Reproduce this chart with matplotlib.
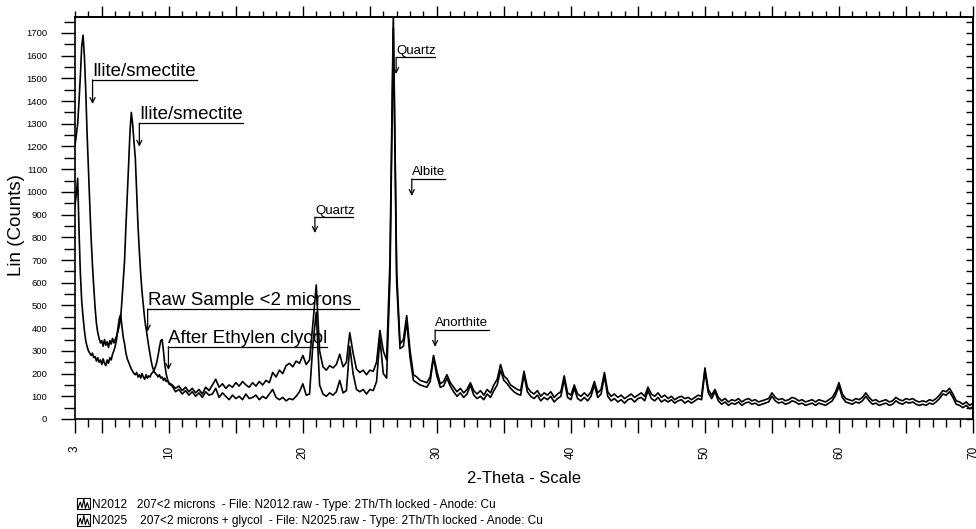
import numpy as np
import matplotlib
matplotlib.use("Agg")
import matplotlib.pyplot as plt
from matplotlib.legend_handler import HandlerBase
from matplotlib.patches import Rectangle
from matplotlib.lines import Line2D
from matplotlib.ticker import MultipleLocator

# 2-theta sampling: 0.1 deg steps at low angle, 0.25 deg steps after 10 deg
theta_fine = np.round(np.arange(3.0, 10.0001, 0.1), 2)
theta_coarse = np.round(np.arange(10.25, 70.0001, 0.25), 2)

# N2012 (raw <2 microns), counts
n2012_fine = [
    1205, 1250, 1300, 1400, 1510, 1640, 1690, 1600, 1450, 1260,   # 3.0 - 3.9
    1100, 950, 800, 680, 580, 490, 420, 380, 355, 335,            # 4.0 - 4.9
    345, 320, 350, 325, 340, 315, 345, 330, 355, 335,             # 5.0 - 5.9
    350, 365, 385, 410, 440, 520, 610, 700, 850, 980,             # 6.0 - 6.9
    1120, 1260, 1350, 1300, 1220, 1150, 1000, 850, 740, 640,      # 7.0 - 7.9
    560, 500, 440, 400, 360, 320, 285, 250, 225, 210,             # 8.0 - 8.9
    200, 195, 185, 195, 180, 185, 170, 180, 165, 170,             # 9.0 - 9.9
    160,                                                          # 10.0
]
n2012_coarse = [
    150, 135, 145, 125,  140, 120, 135, 115,     # 10.25 - 12.0
    130, 110, 140, 125,  150, 175, 140, 155,     # 12.25 - 14.0
    135, 150, 140, 160,  145, 165, 150, 140,     # 14.25 - 16.0
    160, 145, 165, 150,  170, 160, 205, 185,     # 16.25 - 18.0
    215, 200, 235, 245,  230, 255, 245, 280,     # 18.25 - 20.0
    240, 260, 420, 590,  300, 230, 215, 235,     # 20.25 - 22.0
    225, 240, 285, 230,  250, 380, 290, 220,     # 22.25 - 24.0
    205, 215, 195, 215,  210, 250, 390, 300,     # 24.25 - 26.0
    260, 700, 1780, 650, 330, 350, 455, 300,     # 26.25 - 28.0
    195, 185, 170, 165,  160, 185, 280, 210,     # 28.25 - 30.0
    155, 165, 195, 160,  140, 120, 135, 115,     # 30.25 - 32.0
    130, 160, 125, 110,  125, 105, 130, 115,     # 32.25 - 34.0
    150, 175, 240, 190,  175, 150, 140, 130,     # 34.25 - 36.0
    125, 210, 140, 120,  110, 125, 100, 115,     # 36.25 - 38.0
    105, 120, 95, 110,   120, 190, 115, 105,     # 38.25 - 40.0
    150, 110, 100, 115,  100, 120, 165, 115,     # 40.25 - 42.0
    130, 205, 120, 100,  110, 95, 105, 90,       # 42.25 - 44.0
    100, 110, 95, 105,   115, 100, 140, 110,     # 44.25 - 46.0
    100, 115, 95, 105,   90, 100, 85, 95,        # 46.25 - 48.0
    100, 90, 95, 85,     95, 105, 100, 225,      # 48.25 - 50.0
    130, 105, 130, 95,   80, 90, 75, 85,         # 50.25 - 52.0
    80, 90, 75, 85,      90, 80, 85, 75,         # 52.25 - 54.0
    80, 85, 90, 115,     95, 85, 90, 80,         # 54.25 - 56.0
    85, 95, 90, 80,      85, 75, 80, 85,         # 56.25 - 58.0
    75, 85, 80, 75,      85, 95, 120, 160,       # 58.25 - 60.0
    110, 90, 85, 80,     90, 85, 95, 115,        # 60.25 - 62.0
    95, 80, 85, 75,      80, 85, 75, 80,         # 62.25 - 64.0
    95, 85, 80, 90,      85, 90, 80, 75,         # 64.25 - 66.0
    80, 75, 85, 80,      90, 105, 125, 120,      # 66.25 - 68.0
    135, 110, 80, 75,    65, 75, 60, 70,         # 68.25 - 70.0
]

# N2025 (<2 microns + glycol)
n2025_fine = [
    940, 990, 1060, 830, 640, 520, 450, 390, 345, 320,            # 3.0 - 3.9
    300, 290, 280, 290, 270, 275, 255, 270, 250, 260,             # 4.0 - 4.9
    240, 265, 245, 235, 260, 245, 270, 260, 285, 300,             # 5.0 - 5.9
    320, 350, 400, 440, 460, 410, 360, 330, 290, 265,             # 6.0 - 6.9
    250, 235, 220, 210, 200, 195, 205, 185, 195, 180,             # 7.0 - 7.9
    200, 185, 175, 195, 180, 190, 185, 200, 205, 215,             # 8.0 - 8.9
    230, 250, 280, 315, 345, 350, 300, 240, 200, 175,             # 9.0 - 9.9
    155,                                                          # 10.0
]
n2025_coarse = [
    145, 120, 130, 110,  125, 105, 120, 100,     # 10.25 - 12.0
    115, 95, 120, 105,   110, 135, 95, 115,      # 12.25 - 14.0
    100, 85, 105, 90,    100, 85, 110, 90,       # 14.25 - 16.0
    95, 105, 85, 100,    90, 110, 130, 95,       # 16.25 - 18.0
    85, 95, 80, 90,      85, 100, 120, 155,      # 18.25 - 20.0
    105, 110, 330, 470,  150, 110, 100, 115,     # 20.25 - 22.0
    105, 120, 170, 115,  125, 320, 200, 130,     # 22.25 - 24.0
    120, 130, 110, 130,  125, 165, 355, 200,     # 24.25 - 26.0
    180, 620, 1720, 600, 310, 320, 430, 270,     # 26.25 - 28.0
    170, 160, 150, 145,  140, 165, 270, 190,     # 28.25 - 30.0
    140, 145, 180, 145,  120, 100, 115, 95,      # 30.25 - 32.0
    110, 150, 105, 90,   100, 85, 110, 95,       # 32.25 - 34.0
    125, 150, 215, 170,  155, 135, 120, 110,     # 34.25 - 36.0
    105, 195, 120, 100,  90, 105, 80, 95,        # 36.25 - 38.0
    85, 100, 75, 90,     100, 175, 95, 85,       # 38.25 - 40.0
    135, 90, 80, 95,     80, 100, 150, 95,       # 40.25 - 42.0
    110, 190, 100, 80,   90, 75, 85, 70,         # 42.25 - 44.0
    85, 90, 75, 90,      95, 80, 125, 90,        # 44.25 - 46.0
    80, 95, 75, 85,      75, 85, 70, 80,         # 46.25 - 48.0
    85, 70, 80, 70,      80, 90, 85, 210,        # 48.25 - 50.0
    115, 90, 120, 80,    65, 75, 60, 70,         # 50.25 - 52.0
    65, 75, 60, 70,      75, 65, 70, 60,         # 52.25 - 54.0
    65, 70, 75, 100,     80, 70, 75, 65,         # 54.25 - 56.0
    70, 80, 75, 65,      70, 60, 65, 70,         # 56.25 - 58.0
    60, 70, 65, 60,      70, 80, 105, 145,       # 58.25 - 60.0
    95, 75, 70, 65,      75, 70, 80, 100,        # 60.25 - 62.0
    80, 65, 70, 60,      65, 70, 60, 65,         # 62.25 - 64.0
    80, 70, 65, 75,      70, 75, 65, 60,         # 64.25 - 66.0
    65, 60, 70, 65,      75, 90, 110, 105,       # 66.25 - 68.0
    120, 95, 65, 60,     50, 60, 45, 55,         # 68.25 - 70.0
]

two_theta = np.concatenate([theta_fine, theta_coarse])
n2012 = np.array(n2012_fine + n2012_coarse)
n2025 = np.array(n2025_fine + n2025_coarse)

x_tick_pos = [3, 5, 10, 15, 20, 25, 30, 35, 40, 45, 50, 55, 60, 65, 70]
x_tick_lab = ["3", "", "10", "", "20", "", "30", "", "40", "", "50", "", "60", "", "70"]
y_ticks = list(range(0, 1701, 100))

legend_labels = [
    "N2012   207<2 microns  - File: N2012.raw - Type: 2Th/Th locked - Anode: Cu",
    "N2025    207<2 microns + glycol  - File: N2025.raw - Type: 2Th/Th locked - Anode: Cu",
]

# label, x of arrow, y of underline, y of arrow tip, x where underline ends, size
peak_labels = [
    ("Ilite/smectite", 4.31, 1493, 1387, 12.08, "big"),
    ("Ilite/smectite", 7.80, 1302, 1199, 15.55, "big"),
    ("Quartz", 20.90, 889, 819, 23.75, "small"),
    ("Quartz", 26.96, 1592, 1519, 29.87, "small"),
    ("Albite", 28.13, 1057, 982, 30.60, "small"),
    ("Anorthite", 29.87, 392, 318, 33.90, "small"),
    ("Raw Sample <2 microns", 8.42, 484, 385, 24.20, "big"),
    ("After Ethylen clycol", 9.97, 318, 216, 21.80, "big"),
]

REG = ["Liberation Sans", "DejaVu Sans"]


class ZigzagHandler(HandlerBase):
    def create_artists(self, legend, orig_handle, xdescent, ydescent,
                       width, height, fontsize, trans):
        x0, y0 = -xdescent, -ydescent
        box = Rectangle((x0, y0), width, height, fill=False, ec="black",
                        lw=0.8, transform=trans)
        xs = x0 + width * np.array([0.08, 0.25, 0.38, 0.52, 0.64, 0.78, 0.92])
        ys = y0 + height * np.array([0.1, 0.65, 0.15, 0.9, 0.1, 0.6, 0.1])
        zig = Line2D(xs, ys, color="black", lw=0.8, transform=trans)
        return [box, zig]


fig = plt.figure(figsize=(9.76, 5.29), dpi=100)
ax = fig.add_axes([75 / 976, 1 - 419 / 529, 898 / 976, 402 / 529])

ax.plot(two_theta, n2012, color="black", lw=1.2)
ax.plot(two_theta, n2025, color="black", lw=1.2)
ax.set_xlim(3, 70)
ax.set_ylim(0, 1770)

ax.set_xticks(x_tick_pos, x_tick_lab)
ax.xaxis.set_minor_locator(MultipleLocator(1))
ax.set_yticks(y_ticks)
ax.yaxis.set_minor_locator(MultipleLocator(50))
ax.tick_params(axis="x", which="major", direction="out", length=10, width=1,
               pad=9, labelsize=8.5, labelrotation=90)
ax.tick_params(axis="x", which="minor", direction="out", length=6, width=1)
ax.tick_params(axis="y", which="major", direction="out", length=10, width=1,
               pad=10, labelsize=6.8)
ax.tick_params(axis="y", which="minor", direction="out", length=8, width=1)
for lab in ax.get_xticklabels() + ax.get_yticklabels():
    lab.set_family(REG)

top = ax.secondary_xaxis("top")
top.set_xticks(list(range(5, 71, 5)))
top.xaxis.set_minor_locator(MultipleLocator(1))
top.tick_params(which="major", direction="out", length=8, width=1, labeltop=False)
top.tick_params(which="minor", direction="out", length=4, width=1)

right = ax.secondary_yaxis("right")
right.yaxis.set_major_locator(MultipleLocator(50))
right.tick_params(which="major", direction="in", length=5, width=1, labelright=False)

for sp in list(ax.spines.values()) + [top.spines["top"], right.spines["right"]]:
    sp.set_linewidth(1.2)

ax.set_xlabel("2-Theta - Scale", fontsize=12, family=REG)
ax.xaxis.set_label_coords(0.5, -0.13)
ax.set_ylabel("Lin (Counts)", fontsize=13.5, family=REG)
ax.yaxis.set_label_coords(-0.056, 0.483)

for text, x0, y_line, y_tip, x_end, kind in peak_labels:
    ax.plot([x0, x_end], [y_line, y_line], color="black", lw=0.9)
    ax.annotate("", xy=(x0, y_tip), xytext=(x0, y_line),
                arrowprops=dict(arrowstyle="->", color="black", lw=0.9,
                                shrinkA=0, shrinkB=0, mutation_scale=9))
    if kind == "big":
        ax.annotate(text, xy=(x0, y_line), xytext=(0, 3), textcoords="offset points",
                    ha="left", va="baseline", fontsize=13.5, family=REG)
    else:
        ax.annotate(text, xy=(x0, y_line), xytext=(0, 2.5), textcoords="offset points",
                    ha="left", va="baseline", fontsize=9.5, family=REG)

handles = [Line2D([], []), Line2D([], [])]
fig.legend(handles, legend_labels, handler_map={Line2D: ZigzagHandler()},
           loc="upper left", bbox_to_anchor=(77 / 976, 1 - 498 / 529),
           frameon=False, prop={"family": REG, "size": 8.6},
           handlelength=1.1, handleheight=1.1, handletextpad=0.15,
           labelspacing=0.3, borderpad=0, borderaxespad=0)

fig.savefig("out.png", dpi=100)
